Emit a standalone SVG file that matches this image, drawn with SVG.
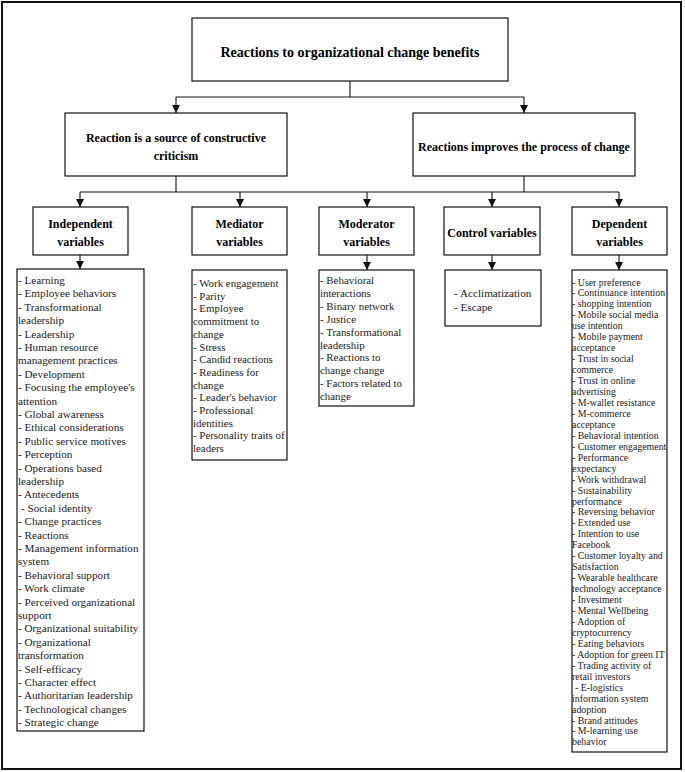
<svg xmlns="http://www.w3.org/2000/svg" width="685" height="772" viewBox="0 0 685 772">
<style>
.box{fill:#fff;stroke:#111;stroke-width:1.2}
.frame{fill:#fff;stroke:#111;stroke-width:2}
.t1{font-family:"Liberation Serif","Times New Roman",serif;font-weight:bold;font-size:14px;fill:#000;text-anchor:middle}
.t2{font-family:"Liberation Serif","Times New Roman",serif;font-weight:bold;font-size:12px;fill:#000;text-anchor:middle}
.li{font-family:"Liberation Serif","Times New Roman",serif;font-size:11.2px;fill:#1a1a1a}
.lm{font-family:"Liberation Serif","Times New Roman",serif;font-size:10.9px;fill:#1a1a1a}
.ls{font-family:"Liberation Serif","Times New Roman",serif;font-size:9.9px;fill:#1a1a1a}
.con{stroke:#111;stroke-width:1.1;fill:none}
</style>
<defs>
<marker id="arr" viewBox="0 0 8 8" refX="8" refY="4" markerWidth="8" markerHeight="8" markerUnits="userSpaceOnUse" orient="auto">
<path d="M0,0 L8,4 L0,8 z" fill="#111"/>
</marker>
</defs>
<rect class="frame" x="2" y="2" width="679" height="767"/>

<g id="connectors">
<path class="con" d="M350,81 V97 M176,97 H524"/>
<path class="con" d="M176,97 V113" marker-end="url(#arr)"/>
<path class="con" d="M524,97 V113" marker-end="url(#arr)"/>
<path class="con" d="M176,176 V192 M524,176 V192 M80,192 H619"/>
<path class="con" d="M80,192 V207" marker-end="url(#arr)"/>
<path class="con" d="M240,192 V207" marker-end="url(#arr)"/>
<path class="con" d="M367,192 V207" marker-end="url(#arr)"/>
<path class="con" d="M492,192 V207" marker-end="url(#arr)"/>
<path class="con" d="M619,192 V207" marker-end="url(#arr)"/>
<path class="con" d="M80,255 V269" marker-end="url(#arr)"/>
<path class="con" d="M367,255 V270" marker-end="url(#arr)"/>
<path class="con" d="M492,255 V270" marker-end="url(#arr)"/>
<path class="con" d="M619,255 V270" marker-end="url(#arr)"/>
</g>

<g id="root">
<rect class="box" x="192" y="18" width="316" height="63"/>
<text class="t1" x="350" y="57">Reactions to organizational change benefits</text>
</g>

<g id="criticism">
<rect class="box" x="65" y="113" width="222" height="63"/>
<text class="t2" x="176" y="142">Reaction is a source of constructive</text>
<text class="t2" x="176" y="160">criticism</text>
</g>

<g id="improves">
<rect class="box" x="413" y="113" width="222" height="63"/>
<text class="t2" x="524" y="151">Reactions improves the process of change</text>
</g>

<g id="independent">
<rect class="box" x="33" y="207" width="95" height="48"/>
<text class="t2" x="80.5" y="228">Independent</text>
<text class="t2" x="80.5" y="246">variables</text>
</g>

<g id="mediator">
<rect class="box" x="192" y="207" width="95" height="48"/>
<text class="t2" x="239.5" y="228">Mediator</text>
<text class="t2" x="239.5" y="246">variables</text>
</g>

<g id="moderator">
<rect class="box" x="319" y="207" width="95" height="48"/>
<text class="t2" x="366.5" y="228">Moderator</text>
<text class="t2" x="366.5" y="246">variables</text>
</g>

<g id="control">
<rect class="box" x="444" y="207" width="96" height="48"/>
<text class="t2" x="492" y="237">Control variables</text>
</g>

<g id="dependent">
<rect class="box" x="572" y="207" width="95" height="48"/>
<text class="t2" x="619.5" y="228">Dependent</text>
<text class="t2" x="619.5" y="246">variables</text>
</g>

<g id="independent-list">
<rect class="box" x="17" y="269" width="127" height="462"/>
<text class="li">
<tspan x="18" y="284">- Learning</tspan>
<tspan x="18" y="297.4">- Employee behaviors</tspan>
<tspan x="18" y="310.8">- Transformational</tspan>
<tspan x="18" y="324.2">leadership</tspan>
<tspan x="18" y="337.6">- Leadership</tspan>
<tspan x="18" y="351">- Human resource</tspan>
<tspan x="18" y="364.4">management practices</tspan>
<tspan x="18" y="377.8">- Development</tspan>
<tspan x="18" y="391.2">- Focusing the employee's</tspan>
<tspan x="18" y="404.6">attention</tspan>
<tspan x="18" y="418">- Global awareness</tspan>
<tspan x="18" y="431.4">- Ethical considerations</tspan>
<tspan x="18" y="444.8">- Public service motives</tspan>
<tspan x="18" y="458.2">- Perception</tspan>
<tspan x="18" y="471.6">- Operations based</tspan>
<tspan x="18" y="485">leadership</tspan>
<tspan x="18" y="498.4">- Antecedents</tspan>
<tspan x="21" y="511.8">- Social identity</tspan>
<tspan x="18" y="525.2">- Change practices</tspan>
<tspan x="18" y="538.6">- Reactions</tspan>
<tspan x="18" y="552">- Management information</tspan>
<tspan x="18" y="565.4">system</tspan>
<tspan x="18" y="578.8">- Behavioral support</tspan>
<tspan x="18" y="592.2">- Work climate</tspan>
<tspan x="18" y="605.6">- Perceived organizational</tspan>
<tspan x="18" y="619">support</tspan>
<tspan x="18" y="632.4">- Organizational suitability</tspan>
<tspan x="18" y="645.8">- Organizational</tspan>
<tspan x="18" y="659.2">transformation</tspan>
<tspan x="18" y="672.6">- Self-efficacy</tspan>
<tspan x="18" y="686">- Character effect</tspan>
<tspan x="18" y="699.4">- Authoritarian leadership</tspan>
<tspan x="18" y="712.8">- Technological changes</tspan>
<tspan x="18" y="726.2">- Strategic change</tspan>
</text>
</g>

<g id="mediator-list">
<rect class="box" x="192" y="270" width="95" height="190"/>
<text class="lm">
<tspan x="193" y="287">- Work engagement</tspan>
<tspan x="193" y="299.7">- Parity</tspan>
<tspan x="193" y="312.4">- Employee</tspan>
<tspan x="193" y="325.1">commitment to</tspan>
<tspan x="193" y="337.8">change</tspan>
<tspan x="193" y="350.5">- Stress</tspan>
<tspan x="193" y="363.2">- Candid reactions</tspan>
<tspan x="193" y="375.9">- Readiness for</tspan>
<tspan x="193" y="388.6">change</tspan>
<tspan x="193" y="401.3">- Leader's behavior</tspan>
<tspan x="193" y="414">- Professional</tspan>
<tspan x="193" y="426.7">identities</tspan>
<tspan x="193" y="439.4">- Personality traits of</tspan>
<tspan x="193" y="452.1">leaders</tspan>
</text>
</g>

<g id="moderator-list">
<rect class="box" x="319" y="270" width="95" height="136"/>
<text class="lm">
<tspan x="320" y="284">- Behavioral</tspan>
<tspan x="320" y="296.9">interactions</tspan>
<tspan x="320" y="309.8">- Binary network</tspan>
<tspan x="320" y="322.7">- Justice</tspan>
<tspan x="320" y="335.6">- Transformational</tspan>
<tspan x="320" y="348.5">leadership</tspan>
<tspan x="320" y="361.4">- Reactions to</tspan>
<tspan x="320" y="374.3">change change</tspan>
<tspan x="320" y="387.2">- Factors related to</tspan>
<tspan x="320" y="400.1">change</tspan>
</text>
</g>

<g id="control-list">
<rect class="box" x="445" y="270" width="96" height="56"/>
<text class="li">
<tspan x="454" y="297">- Acclimatization</tspan>
<tspan x="454" y="311">- Escape</tspan>
</text>
</g>

<g id="dependent-list">
<rect class="box" x="572" y="270" width="95" height="482"/>
<text class="ls">
<tspan x="572" y="285.5">- User preference</tspan>
<tspan x="572" y="296.45">- Continuance intention</tspan>
<tspan x="572" y="307.4">- shopping intention</tspan>
<tspan x="572" y="318.35">- Mobile social media</tspan>
<tspan x="572" y="329.3">use intention</tspan>
<tspan x="572" y="340.25">- Mobile payment</tspan>
<tspan x="572" y="351.2">acceptance</tspan>
<tspan x="572" y="362.15">- Trust in social</tspan>
<tspan x="572" y="373.1">commerce</tspan>
<tspan x="572" y="384.05">- Trust in online</tspan>
<tspan x="572" y="395">advertising</tspan>
<tspan x="572" y="405.95">- M-wallet resistance</tspan>
<tspan x="572" y="416.9">- M-commerce</tspan>
<tspan x="572" y="427.85">acceptance</tspan>
<tspan x="572" y="438.8">- Behavioral intention</tspan>
<tspan x="572" y="449.75">- Customer engagement</tspan>
<tspan x="572" y="460.7">- Performance</tspan>
<tspan x="572" y="471.65">expectancy</tspan>
<tspan x="572" y="482.6">- Work withdrawal</tspan>
<tspan x="572" y="493.55">- Sustainability</tspan>
<tspan x="572" y="504.5">performance</tspan>
<tspan x="572" y="515.45">- Reversing behavior</tspan>
<tspan x="572" y="526.4">- Extended use</tspan>
<tspan x="572" y="537.35">- Intention to use</tspan>
<tspan x="572" y="548.3">Facebook</tspan>
<tspan x="572" y="559.25">- Customer loyalty and</tspan>
<tspan x="572" y="570.2">Satisfaction</tspan>
<tspan x="572" y="581.15">- Wearable healthcare</tspan>
<tspan x="572" y="592.1">technology acceptance</tspan>
<tspan x="572" y="603.05">- Investment</tspan>
<tspan x="572" y="614">- Mental Wellbeing</tspan>
<tspan x="572" y="624.95">- Adoption of</tspan>
<tspan x="572" y="635.9">cryptocurrency</tspan>
<tspan x="572" y="646.85">- Eating behaviors</tspan>
<tspan x="572" y="657.8">- Adoption for green IT</tspan>
<tspan x="572" y="668.75">- Trading activity of</tspan>
<tspan x="572" y="679.7">retail investors</tspan>
<tspan x="575" y="690.65">- E-logistics</tspan>
<tspan x="572" y="701.6">information system</tspan>
<tspan x="572" y="712.55">adoption</tspan>
<tspan x="572" y="723.5">- Brand attitudes</tspan>
<tspan x="572" y="734.45">- M-learning use</tspan>
<tspan x="572" y="745.4">behavior</tspan>
</text>
</g>
</svg>
